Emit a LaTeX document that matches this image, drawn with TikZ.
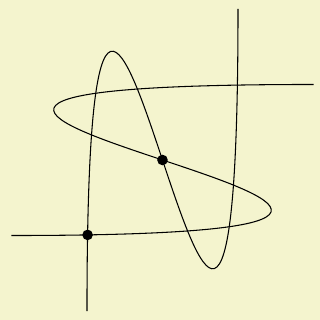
\documentclass[tikz,border=0pt]{standalone}
\definecolor{bgyellow}{RGB}{244,244,206}
\begin{document}
\begin{tikzpicture}[curve/.style={draw=black,line width=0.4pt}, dotfill/.style={fill=black}]
\fill[bgyellow] (-2.152,-2.119) rectangle (2.086,2.119);
\useasboundingbox (-2.152,-2.119) rectangle (2.086,2.119);
\coordinate (a) at (-0.992,-0.992);
\coordinate (b) at (0,0);
\begin{scope}
\clip (-2,-2) rectangle (2,2);
\draw[curve] (-2,-1) .. controls (8,-1) and (-8,1) .. (2,1);
\draw[curve] (-1,-2) .. controls (-1,8) and (1,-8) .. (1,2);
\end{scope}
\fill[dotfill] (a) circle (2pt) (b) circle (2pt);
\end{tikzpicture}
\end{document}
